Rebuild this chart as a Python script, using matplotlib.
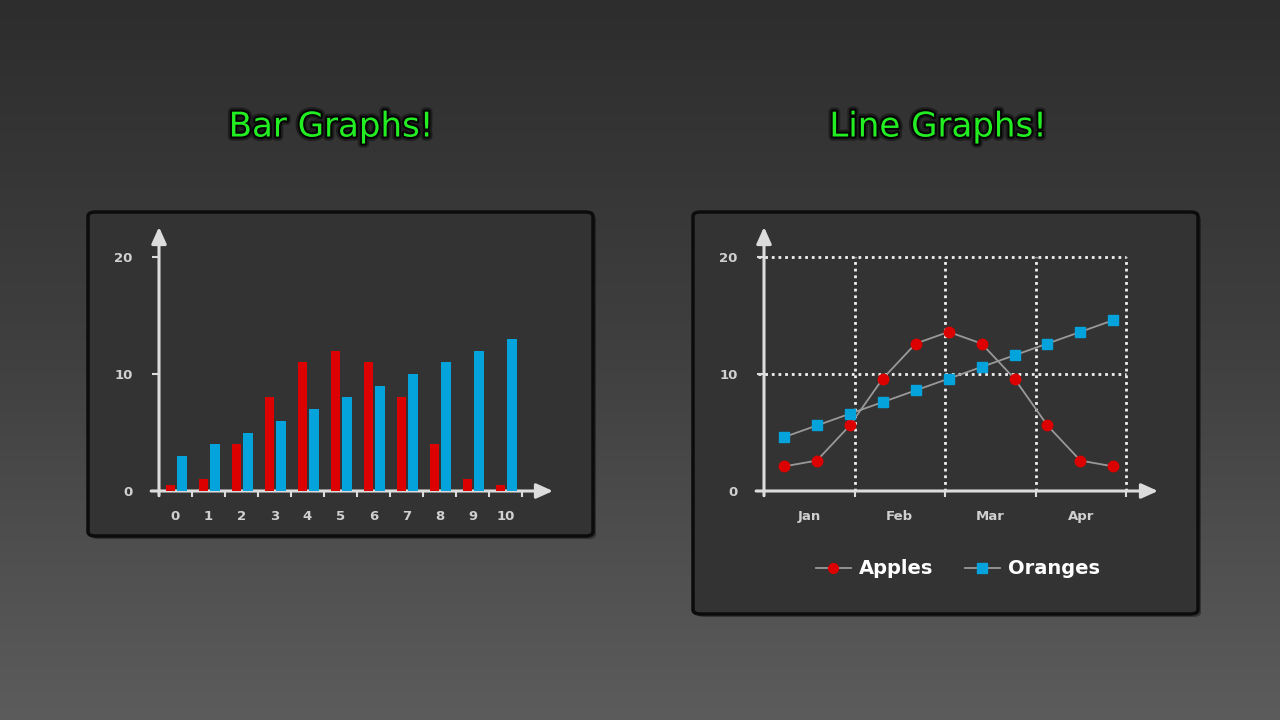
import numpy as np
import matplotlib
matplotlib.use("Agg")
import matplotlib.pyplot as plt
import matplotlib.patheffects as pe
from matplotlib.patches import FancyBboxPatch
from matplotlib.lines import Line2D

# bar chart data
bar_categories = ["0", "1", "2", "3", "4", "5", "6", "7", "8", "9", "10"]
bar_red = [0.5, 1, 4, 8, 11, 12, 11, 8, 4, 1, 0.5]
bar_blue = [3, 4, 5, 6, 7, 8, 9, 10, 11, 12, 13]

# line chart data
months = ["Jan", "Feb", "Mar", "Apr"]
apples = [2.1, 2.6, 5.6, 9.6, 12.6, 13.6, 12.6, 9.6, 5.6, 2.6, 2.1]
oranges = [4.6, 5.6, 6.6, 7.6, 8.6, 9.6, 10.6, 11.6, 12.6, 13.6, 14.6]

y_ticks = [0, 10, 20]

RED = "#dd0000"
BLUE = "#05a3dc"
AXIS = "#dcdcdc"
LABEL = "#d0d0d0"
W, H = 1280, 720


def px_axes(fig, x0, y_top, x1, y_bot):
    """axes from pixel box (top-left origin)"""
    return fig.add_axes([x0 / W, (H - y_bot) / H, (x1 - x0) / W, (y_bot - y_top) / H], zorder=5)


def panel(fig, x0, y0, x1, y1):
    # shadow then panel
    sh = FancyBboxPatch(((x0 + 3) / W, (H - y1 - 3) / H), (x1 - x0) / W, (y1 - y0) / H,
                        boxstyle="round,pad=0,rounding_size=0.006", transform=fig.transFigure,
                        facecolor="black", edgecolor="none", alpha=0.35, zorder=1)
    p = FancyBboxPatch((x0 / W, (H - y1) / H), (x1 - x0) / W, (y1 - y0) / H,
                       boxstyle="round,pad=0,rounding_size=0.006", transform=fig.transFigure,
                       facecolor="#333333", edgecolor="#0c0c0c", linewidth=2.5, zorder=2)
    fig.patches.extend([sh, p])


def style_axes(ax, xmin, xmax, ymax):
    ax.set_facecolor("none")
    for s in ax.spines.values():
        s.set_visible(False)
    ax.set_xlim(xmin, xmax)
    ax.set_ylim(0, ymax)
    arrow = dict(arrowstyle="-|>,head_length=1.0,head_width=0.45", color=AXIS, lw=2.2,
                 shrinkA=0, shrinkB=0, mutation_scale=10)
    ax.annotate("", xy=(xmax, 0), xytext=(xmin - 0.02 * (xmax - xmin), 0),
                arrowprops=arrow, annotation_clip=False)
    ax.annotate("", xy=(xmin, ymax), xytext=(xmin, -0.4),
                arrowprops=arrow, annotation_clip=False)
    ax.set_yticks(y_ticks)
    ax.set_yticklabels([str(t) for t in y_ticks])
    ax.tick_params(axis="y", direction="out", length=5, width=1.5, color=AXIS,
                   labelcolor=LABEL, labelsize=9.5, pad=14)
    ax.tick_params(axis="x", which="major", direction="out", length=4, width=1.5,
                   color=AXIS, labelbottom=False)
    ax.tick_params(axis="x", which="minor", length=0, labelcolor=LABEL, labelsize=9.5, pad=14)
    for lab in ax.get_yticklabels():
        lab.set_fontweight("bold")


fig = plt.figure(figsize=(12.8, 7.2), dpi=100)

# gradient background
bg = fig.add_axes([0, 0, 1, 1], zorder=-5)
grad = np.linspace(0, 1, 256).reshape(-1, 1)
bg.imshow(grad, aspect="auto", cmap=matplotlib.colors.LinearSegmentedColormap.from_list(
    "bg", ["#2d2d2d", "#404040", "#5c5c5c"]), extent=[0, 1, 0, 1], origin="upper")
bg.set_axis_off()

panel(fig, 88, 212, 593, 536)
panel(fig, 693, 212, 1198, 614)

title_fx = [pe.withStroke(linewidth=6, foreground="#111111", alpha=0.6),
            pe.withStroke(linewidth=3, foreground="#050505")]
fig.text(331 / W, 1 - 127 / H, "Bar Graphs!", color="#22ee22", fontsize=24.5,
         ha="center", va="center", path_effects=title_fx, zorder=5)
fig.text(938 / W, 1 - 127 / H, "Line Graphs!", color="#22ee22", fontsize=24.5,
         ha="center", va="center", path_effects=title_fx, zorder=5)

# ---- bar chart ----
px_unit = 11.7
ax1 = px_axes(fig, 159, 227, 553, 491)
style_axes(ax1, -0.5, 11.44, (491 - 227) / px_unit)
x = np.arange(len(bar_categories))
ax1.bar(x - 0.15, bar_red, width=0.29, color=RED, zorder=3)
ax1.bar(x + 0.19, bar_blue, width=0.3, color=BLUE, zorder=3)
ax1.set_xticks(np.arange(-0.5, len(bar_categories) + 0.5, 1))
ax1.set_xticks(x, minor=True)
ax1.set_xticklabels(bar_categories, minor=True)
for lab in ax1.get_xticklabels(minor=True):
    lab.set_fontweight("bold")

# ---- line chart ----
ax2 = px_axes(fig, 764, 227, 1158, 491)
month_px = 90.5
style_axes(ax2, 0, (1158 - 764) / month_px, (491 - 227) / px_unit)
grid_kw = dict(color="#f0f0f0", lw=2, linestyle=(0, (1, 1.4)), zorder=1)
for yv in [10, 20]:
    ax2.plot([-0.066, 4.0], [yv, yv], clip_on=False, **grid_kw)
for xv in range(1, len(months) + 1):
    ax2.plot([xv, xv], [0, 20], **grid_kw)
pts = np.linspace(0.22, 3.86, len(apples))
ax2.plot(pts, apples, color="#999999", lw=1.3, marker="o", markersize=7.5,
         markerfacecolor=RED, markeredgecolor=RED, zorder=3, label="Apples")
ax2.plot(pts, oranges, color="#999999", lw=1.3, marker="s", markersize=7.5,
         markerfacecolor=BLUE, markeredgecolor=BLUE, zorder=3, label="Oranges")
ax2.set_xticks(range(len(months) + 1))
ax2.set_xticks(np.arange(len(months)) + 0.5, minor=True)
ax2.set_xticklabels(months, minor=True)
for lab in ax2.get_xticklabels(minor=True):
    lab.set_fontweight("bold")

handles = [Line2D([], [], color="#999999", lw=1.3, marker="o", markersize=7,
                  markerfacecolor=RED, markeredgecolor=RED),
           Line2D([], [], color="#999999", lw=1.3, marker="s", markersize=7,
                  markerfacecolor=BLUE, markeredgecolor=BLUE)]
leg = fig.legend(handles, ["Apples", "Oranges"], loc="center", ncol=2,
                 bbox_to_anchor=(958 / W, 1 - 569 / H), frameon=False, fontsize=14,
                 handlelength=1.8, handletextpad=0.45, columnspacing=1.6)
for t in leg.get_texts():
    t.set_color("white")
    t.set_fontweight("bold")

fig.savefig("out.png", dpi=100)
